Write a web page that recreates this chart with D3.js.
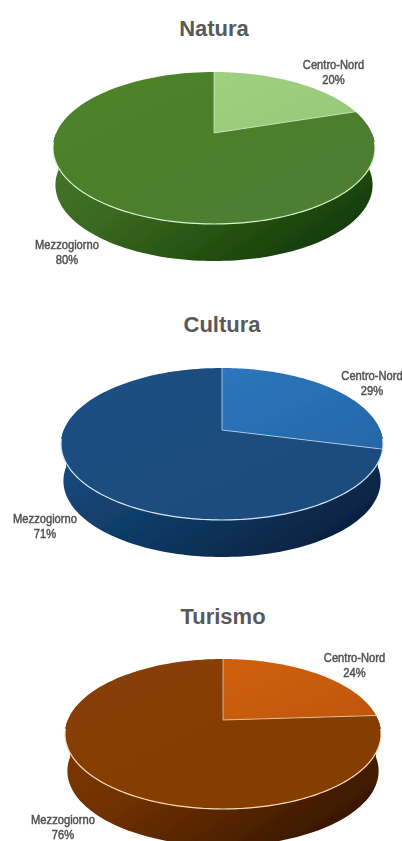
<!DOCTYPE html>
<html><head><meta charset="utf-8">
<script src="https://cdn.jsdelivr.net/npm/d3@7"></script>
<style>html,body{margin:0;padding:0;background:#fff;overflow:hidden}svg{display:block}</style>
</head><body>
<svg id="c" width="402" height="841"></svg>
<script>
const titles = ["Natura","Cultura","Turismo"];
const categories = ["Centro-Nord","Mezzogiorno"];
const naturaValues = [20,80];
const culturaValues = [29,71];
const turismoValues = [24,76];
const valueSets = [naturaValues,culturaValues,turismoValues];

const layouts = [
 {cx:214,apex:133,top:72,bottom:224,rx:161,depth:37,titleY:36,
  labels:[[333.5,68.5],[67,248.5]]},
 {cx:222,apex:430,top:368,bottom:520,rx:161,depth:37,titleY:331.5,
  labels:[[372,380],[45,522.5]]},
 {cx:223,apex:720,top:659,bottom:809,rx:158,depth:37,titleY:623.5,
  labels:[[354.5,662],[63,824]]}
];
const palettes = [
 {main:["#4c8429","#4b7f2c","#4f7f36"],light:["#9ed07f","#96c878"],side:["#44752a","#3a6820","#235010","#0f3505"],rim:"#dcefcf"},
 {main:["#1c4f84","#1d4d7e","#1b4a7c"],light:["#2d75bd","#2468a8"],side:["#184a7c","#123f6c","#0b2f55","#041d38"],rim:"#d4e4f4"},
 {main:["#873f07","#863d06","#853c06"],light:["#cf6110","#c05608"],side:["#7d3805","#6f3105","#522303","#2e1301"],rim:"#f6dcc0"}
];

const svg = d3.select("#c");
const defs = svg.append("defs");
const f = defs.append("filter").attr("id","soft").attr("x","-5%").attr("y","-5%").attr("width","110%").attr("height","110%");
f.append("feGaussianBlur").attr("stdDeviation",0.6);
const fl = defs.append("filter").attr("id","softText").attr("x","-5%").attr("y","-20%").attr("width","110%").attr("height","140%");
fl.append("feGaussianBlur").attr("stdDeviation",0.2);

const pie = d3.pie().sort(null).value(d=>d);
const line = d3.line().x(d=>d[0]).y(d=>d[1]);

titles.forEach((title,i)=>{
  const L = layouts[i], P = palettes[i], vals = valueSets[i];
  const g = svg.append("g");
  const up = L.apex-L.top, dn = L.bottom-L.apex;
  const a = -(dn-up)/(dn+up), b = up*(1-a);
  const c = L.rx*Math.sqrt(1-a*a);
  const project = (t,r=1)=>{
    const u=r*Math.sin(t), v=-r*Math.cos(t), w=1+a*v;
    return [L.cx+c*u/w, L.apex+b*v/w];
  };
  const arcPts = (s,e,r=1)=>d3.range(0,121).map(k=>project(s+(e-s)*k/120,r));

  const id = t=>t+"-"+i;
  const lg = (name,stops,x1,y1,x2,y2)=>{
    const gr=defs.append("linearGradient").attr("id",id(name)).attr("x1",x1).attr("y1",y1).attr("x2",x2).attr("y2",y2);
    stops.forEach((s,k)=>gr.append("stop").attr("offset",k/(stops.length-1)).attr("stop-color",s));
  };
  lg("main",P.main,0,0,1,1);
  lg("light",P.light,0,0,1,1);
  lg("side",P.side,0,0.2,1,0.8);

  const tL = 1.5*Math.PI, tR = 0.5*Math.PI;
  const frontTop = arcPts(tR,tL);
  const shrink = 0.985;
  const frontBot = frontTop.slice().reverse().map(p=>[L.cx+(p[0]-L.cx)*shrink,p[1]+L.depth]);
  g.append("path").attr("d",line(frontTop.concat(frontBot))+"Z")
    .attr("fill",`url(#${id("side")})`).attr("filter","url(#soft)");

  const arcs = pie(vals);
  g.selectAll("path.slice").data(arcs).enter().append("path").attr("class","slice")
    .attr("d",d=>line([[L.cx,L.apex]].concat(arcPts(d.startAngle,d.endAngle)))+"Z")
    .attr("fill",(d,k)=>`url(#${id(k===0?"light":"main")})`)
    .attr("filter","url(#soft)");

  arcs.slice(0,1).forEach(d=>{
    g.append("path").attr("d",line([project(d.startAngle),[L.cx,L.apex],project(d.endAngle)]))
      .attr("fill","none").attr("stroke",P.rim).attr("stroke-width",1).attr("opacity",0.7);
  });
  g.append("path").attr("d",line(arcPts(tR+0.12,tL-0.12))).attr("fill","none").attr("stroke",P.rim).attr("stroke-width",1.2);

  svg.append("text").attr("x",L.cx).attr("y",L.titleY).attr("text-anchor","middle")
    .attr("font-family","'Liberation Sans',Arial,sans-serif").attr("font-weight","bold").attr("font-size",22)
    .attr("fill","#595959").text(title);

  categories.forEach((cat,k)=>{
    const [x,y]=L.labels[k];
    const t=svg.append("g").attr("transform",`translate(${x},${y}) scale(0.93,1)`).attr("filter","url(#softText)")
      .attr("font-family","'Liberation Sans',Arial,sans-serif").attr("font-weight","normal").attr("font-size",12)
      .attr("fill","#505050").attr("stroke","#505050").attr("stroke-width",0.45).attr("text-anchor","middle");
    t.append("text").text(cat);
    t.append("text").attr("y",15.5).text(vals[k]+"%");
  });
});
</script>
</body></html>
